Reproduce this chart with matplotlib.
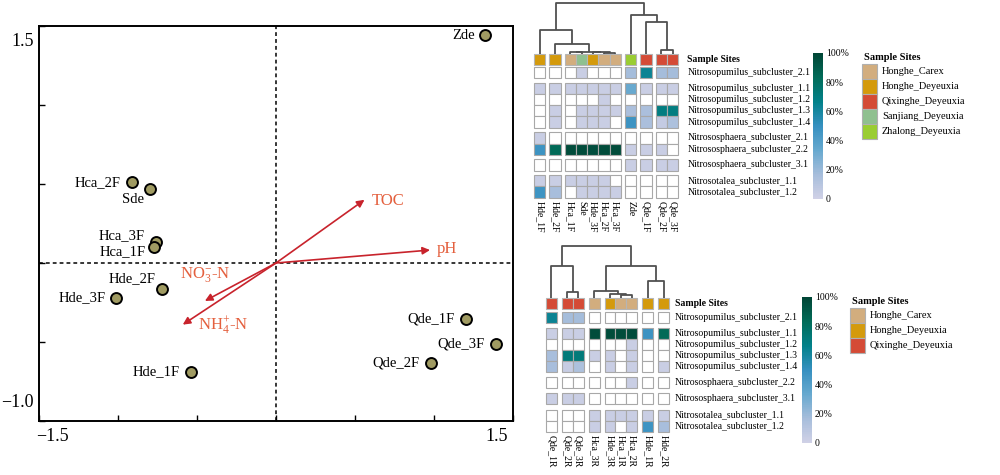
import numpy as np
import matplotlib
matplotlib.use('Agg')
import matplotlib.pyplot as plt
from matplotlib.colors import LinearSegmentedColormap, Normalize
from matplotlib.patches import Rectangle
from matplotlib.cm import ScalarMappable

plt.rcParams['font.family'] = ['Liberation Serif', 'DejaVu Serif']
plt.rcParams['mathtext.fontset'] = 'custom'
plt.rcParams['mathtext.rm'] = 'Liberation Serif'
plt.rcParams['mathtext.it'] = 'Liberation Serif:italic'

# =============================================================================
# ordination data (RDA sites + environmental arrows)
# =============================================================================
site_names = ['Zde', 'Hca_2F', 'Sde', 'Hca_3F', 'Hca_1F', 'Hde_2F', 'Hde_3F',
              'Hde_1F', 'Qde_1F', 'Qde_3F', 'Qde_2F']
site_x = [1.32, -0.91, -0.80, -0.76, -0.77, -0.72, -1.01, -0.54, 1.20, 1.39, 0.98]
site_y = [1.44, 0.51, 0.47, 0.135, 0.10, -0.167, -0.22, -0.69, -0.356, -0.513, -0.63]

env_names = ['TOC', 'pH', r'NO$_3^{-}$-N', r'NH$_4^{+}$-N']
env_x = [0.56, 0.975, -0.45, -0.59]
env_y = [0.40, 0.082, -0.24, -0.39]

# =============================================================================
# heatmap data (relative abundance, %)
# =============================================================================
site_groups = ['Honghe_Carex', 'Honghe_Deyeuxia', 'Qixinghe_Deyeuxia',
               'Sanjiang_Deyeuxia', 'Zhalong_Deyeuxia']
site_colors = ['#d2ad7e', '#d49a0c', '#d44b36', '#8fc08f', '#9acd32']

top_cols = ['Hde_1F', 'Hde_2F', 'Hca_1F', 'Sde', 'Hde_3F', 'Hca_2F', 'Hca_3F',
            'Zde', 'Qde_1F', 'Qde_2F', 'Qde_3F']
top_sites = ['Honghe_Deyeuxia', 'Honghe_Deyeuxia', 'Honghe_Carex', 'Sanjiang_Deyeuxia',
             'Honghe_Deyeuxia', 'Honghe_Carex', 'Honghe_Carex', 'Zhalong_Deyeuxia',
             'Qixinghe_Deyeuxia', 'Qixinghe_Deyeuxia', 'Qixinghe_Deyeuxia']
top_rows = ['Nitrosopumilus_subcluster_2.1', 'Nitrosopumilus_subcluster_1.1',
            'Nitrosopumilus_subcluster_1.2', 'Nitrosopumilus_subcluster_1.3',
            'Nitrosopumilus_subcluster_1.4', 'Nitrososphaera_subcluster_2.1',
            'Nitrososphaera_subcluster_2.2', 'Nitrososphaera_subcluster_3.1',
            'Nitrosotalea_subcluster_1.1', 'Nitrosotalea_subcluster_1.2']
top_vals = [
    [0, 0, 0, 3, 0, 0, 0, 17, 64, 17, 17],
    [3, 3, 3, 3, 3, 3, 3, 33, 3, 3, 3],
    [0, 0, 0, 0, 0, 3, 0, 0, 0, 0, 0],
    [0, 3, 0, 3, 3, 3, 3, 15, 15, 70, 70],
    [0, 3, 0, 3, 3, 3, 0, 48, 15, 5, 14],
    [3, 0, 0, 0, 0, 0, 0, 0, 0, 0, 0],
    [48, 84, 97, 97, 96, 97, 97, 3, 3, 3, 0],
    [0, 0, 0, 0, 0, 0, 0, 3, 3, 3, 3],
    [3, 3, 3, 3, 3, 3, 0, 0, 0, 0, 0],
    [47, 16, 0, 3, 3, 3, 3, 0, 0, 0, 0],
]
top_col_groups = [1, 1, 5, 1, 1, 2]
top_row_groups = [1, 4, 2, 1, 2]
# dendrogram: [left, right, height]
top_tree = [['Hde_1F', ['Hde_2F', [['Hca_1F', 'Sde', 0.02],
                                    ['Hde_3F', ['Hca_2F', 'Hca_3F', 0.012], 0.02], 0.03], 0.18], 0.47],
            ['Zde', ['Qde_1F', ['Qde_2F', 'Qde_3F', 0.06], 0.61], 0.76], 1.0]

bot_cols = ['Qde_1R', 'Qde_2R', 'Qde_3R', 'Hca_3R', 'Hde_3R', 'Hca_1R', 'Hca_2R',
            'Hde_1R', 'Hde_2R']
bot_sites = ['Qixinghe_Deyeuxia', 'Qixinghe_Deyeuxia', 'Qixinghe_Deyeuxia', 'Honghe_Carex',
             'Honghe_Deyeuxia', 'Honghe_Carex', 'Honghe_Carex', 'Honghe_Deyeuxia',
             'Honghe_Deyeuxia']
bot_rows = ['Nitrosopumilus_subcluster_2.1', 'Nitrosopumilus_subcluster_1.1',
            'Nitrosopumilus_subcluster_1.2', 'Nitrosopumilus_subcluster_1.3',
            'Nitrosopumilus_subcluster_1.4', 'Nitrososphaera_subcluster_2.2',
            'Nitrososphaera_subcluster_3.1', 'Nitrosotalea_subcluster_1.1',
            'Nitrosotalea_subcluster_1.2']
bot_vals = [
    [64, 17, 17, 0, 0, 0, 0, 0, 0],
    [3, 3, 3, 97, 97, 97, 97, 48, 84],
    [0, 0, 0, 0, 0, 0, 3, 0, 0],
    [16, 72, 72, 3, 3, 0, 3, 0, 0],
    [16, 4, 14, 0, 3, 0, 3, 0, 3],
    [0, 0, 0, 0, 0, 0, 3, 0, 0],
    [3, 3, 3, 0, 0, 0, 0, 0, 0],
    [0, 0, 0, 3, 3, 3, 3, 3, 3],
    [0, 0, 0, 3, 3, 0, 3, 47, 16],
]
bot_col_groups = [1, 2, 1, 3, 1, 1]
bot_row_groups = [1, 4, 1, 1, 2]
bot_tree = [['Qde_1R', ['Qde_2R', 'Qde_3R', 0.1], 0.6],
            [['Hca_3R', ['Hde_3R', ['Hca_1R', 'Hca_2R', 0.04], 0.07], 0.12],
             ['Hde_1R', 'Hde_2R', 0.31], 0.6], 1.0]

cbar_ticks = [0, 20, 40, 60, 80, 100]
cbar_labels = ['0', '20%', '40%', '60%', '80%', '100%']

cmap = LinearSegmentedColormap.from_list('pbg', plt.get_cmap('PuBuGn')(np.linspace(0.25, 1, 256)))
norm = Normalize(0, 100)
site_col = dict(zip(site_groups, site_colors))

fig = plt.figure(figsize=(10, 4.75), dpi=100)
# overlay axes in pixel units for the heatmaps
ov = fig.add_axes([0, 0, 1, 1])
ov.set_xlim(0, 1000)
ov.set_ylim(475, 0)
ov.axis('off')


def positions(groups, size, gap, start):
    pos = []
    p = start
    for g in groups:
        for i in range(g):
            pos.append(p)
            p += size
        p += gap
    return pos


def heatmap(x0, y_ann, ann_h, y0, cw, rh, cgap, rgap, cols, sites, rows, vals,
            col_groups, row_groups, tree, dend_h, lab_dx, fs=7):
    xs = positions(col_groups, cw, cgap, x0)
    ys = positions(row_groups, rh, rgap, y0)
    vals = np.array(vals, dtype=float)
    for j, c in enumerate(cols):
        ov.add_patch(Rectangle((xs[j], y_ann), cw, ann_h, facecolor=site_col[sites[j]],
                               edgecolor='#b5b5b5', lw=0.8))
        for i in range(len(rows)):
            v = vals[i, j]
            fc = 'white' if v == 0 else cmap(norm(v))
            ov.add_patch(Rectangle((xs[j], ys[i]), cw, rh, facecolor=fc,
                                   edgecolor='#a8a8a8', lw=0.8))
        ov.text(xs[j] + cw / 2, ys[-1] + rh + 3, c, rotation=270, ha='center', va='top',
                fontsize=fs)
    xend = xs[-1] + cw
    for i, r in enumerate(rows):
        ov.text(xend + lab_dx, ys[i] + rh / 2, r, ha='left', va='center', fontsize=fs)
    ov.text(xend + lab_dx, y_ann + ann_h / 2, 'Sample Sites', ha='left', va='center',
            fontsize=fs, fontweight='bold')
    # dendrogram
    xc = {c: xs[j] + cw / 2 for j, c in enumerate(cols)}

    def dend(node):
        if isinstance(node, str):
            return xc[node], 0
        xa, ha_ = dend(node[0])
        xb, hb = dend(node[1])
        h = node[2]
        yb = y_ann - 0.5
        ov.plot([xa, xa, xb, xb], [yb - ha_ * dend_h, yb - h * dend_h, yb - h * dend_h,
                                   yb - hb * dend_h], color='#505050', lw=1.3,
                solid_capstyle='butt')
        return (xa + xb) / 2, h
    dend(tree)


def colorbar(x, y, w, h, fs=7):
    cax = fig.add_axes([x / 1000, 1 - (y + h) / 475, w / 1000, h / 475])
    cb = fig.colorbar(ScalarMappable(norm=norm, cmap=cmap), cax=cax)
    cb.outline.set_visible(False)
    cb.set_ticks(cbar_ticks)
    cb.set_ticklabels(cbar_labels)
    cax.tick_params(length=0, labelsize=fs, pad=2)


def legend(x, y, names, fs=7):
    ov.text(x + 2, y, 'Sample Sites', ha='left', va='center', fontsize=fs + 0.5,
            fontweight='bold')
    for k, n in enumerate(names):
        yy = y + 7 + k * 15.1
        ov.add_patch(Rectangle((x, yy), 15, 15, facecolor=site_col[n], edgecolor='#b0b0b0',
                               lw=0.8))
        ov.text(x + 20, yy + 7.5, n, ha='left', va='center', fontsize=fs + 0.5)


heatmap(534, 54, 11, 66.7, 11.2, 11.3, 4.2, 4.5, top_cols, top_sites, top_rows, top_vals,
        top_col_groups, top_row_groups, top_tree, 51, 9)
colorbar(813, 53, 10, 146)
legend(862, 57, site_groups)

heatmap(546, 298, 11, 311.7, 10.9, 11.0, 5.0, 5.25, bot_cols, bot_sites, bot_rows, bot_vals,
        bot_col_groups, bot_row_groups, bot_tree, 52, 6)
colorbar(802, 297, 10, 146)
legend(850, 301, site_groups[:3])

# =============================================================================
# ordination plot
# =============================================================================
ax = fig.add_axes([0.039, 1 - 421 / 475, 0.474, 395 / 475])
ax.set_xlim(-1.5, 1.5)
ax.set_ylim(-1.0, 1.5)
ax.axhline(0, color='k', lw=1.1, ls=(0, (2.5, 2)))
ax.axvline(0, color='k', lw=1.1, ls=(0, (2.5, 2)))
for s in ax.spines.values():
    s.set_linewidth(1.4)
ax.set_xticks(np.arange(-1.5, 1.51, 0.5))
ax.set_yticks(np.arange(-1.0, 1.51, 0.5))
ax.set_xticklabels([])
ax.set_yticklabels([])
ax.tick_params(direction='in', length=4, width=1)

ax.annotate('\u22121.5', xy=(-1.5, 0), xycoords=('data', 'axes fraction'), xytext=(-2, -5),
            textcoords='offset points', ha='left', va='top', fontsize=13)
ax.annotate('1.5', xy=(1.5, 0), xycoords=('data', 'axes fraction'), xytext=(-3.5, -5),
            textcoords='offset points', ha='right', va='top', fontsize=13)
ax.annotate('1.5', xy=(0, 1.5), xycoords=('axes fraction', 'data'), xytext=(-4, -5),
            textcoords='offset points', ha='right', va='top', fontsize=13)
ax.annotate('\u22121.0', xy=(0, -1.0), xycoords=('axes fraction', 'data'), xytext=(-4, 7),
            textcoords='offset points', ha='right', va='bottom', fontsize=13)

ax.scatter(site_x, site_y, s=62, c='#a09b62', edgecolors='k', linewidths=1.4, zorder=4)
lab_off = {'Sde': (-4, -8), 'Hca_3F': (-8, 4.5), 'Hca_1F': (-6.5, -3.5), 'Hde_2F': (-4.5, 8),
           'Zde': (-7, 0)}
for n, x, y in zip(site_names, site_x, site_y):
    dx, dy = lab_off.get(n, (-8, 0))
    ax.annotate(n, xy=(x, y), xytext=(dx, dy), textcoords='offset points', ha='right',
                va='center', fontsize=10.5)

env_off = [(17, -1), (12, 0.5), (0, 19), (29, -1)]
for n, x, y, (dx, dy) in zip(env_names, env_x, env_y, env_off):
    ax.annotate('', xy=(x, y), xytext=(0, 0),
                arrowprops=dict(arrowstyle='-|>', color='#c8232c', lw=1.2,
                                mutation_scale=11, shrinkA=0, shrinkB=0))
    ax.annotate(n, xy=(x, y), xytext=(dx, dy), textcoords='offset points', ha='center',
                va='center', fontsize=12, color='#e4603e')

fig.savefig('out.png', dpi=100)
